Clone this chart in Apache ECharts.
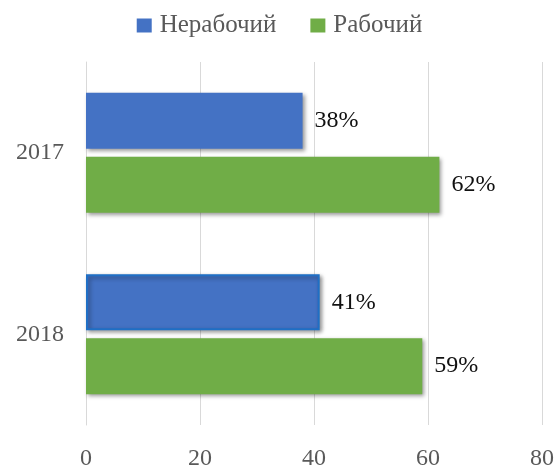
<!DOCTYPE html>
<html><head><meta charset="utf-8">
<script src="https://cdn.jsdelivr.net/npm/echarts@6/dist/echarts.min.js"></script>
<style>html,body{margin:0;padding:0;background:#fff}#c{width:559px;height:471px}</style>
</head><body><div id="c"></div>
<script>
const categories = ['2017', '2018'];
const seriesNames = ['Нерабочий', 'Рабочий'];
const nonWorking = [38, 41];
const working = [62, 59];
const xTicks = [0, 20, 40, 60, 80];

const FONT = '"Liberation Serif", "DejaVu Serif", serif';
const chart = echarts.init(document.getElementById('c'));
const shadow = {shadowColor: 'rgba(0,0,0,0.4)', shadowBlur: 4, shadowOffsetX: 2, shadowOffsetY: 2};
// In the reference, the 2018 "Нерабочий" bar carries a darker blue outline.
const nonWorkingData = nonWorking.map((v, i) => i === 1
  ? {value: v, itemStyle: {borderColor: '#1F6FC5', borderWidth: 2}}
  : v);
chart.setOption({
  animation: false,
  textStyle: {fontFamily: FONT},
  legend: {
    top: 8, left: 'center', itemWidth: 15, itemHeight: 14, itemGap: 34,
    icon: 'rect',
    textStyle: {fontFamily: FONT, fontSize: 25, color: '#595959', padding: [0, 0, 0, 3]},
    data: seriesNames
  },
  grid: {left: 86, right: 17, top: 62, bottom: 43, containLabel: false},
  xAxis: {
    type: 'value', min: xTicks[0], max: xTicks[xTicks.length - 1], interval: 20,
    axisLine: {show: false}, axisTick: {show: false},
    splitLine: {lineStyle: {color: '#d9d9d9', width: 1}},
    axisLabel: {fontFamily: FONT, fontSize: 24, color: '#595959', margin: 22}
  },
  yAxis: {
    type: 'category', data: categories, inverse: true,
    axisLine: {show: true, lineStyle: {color: '#d9d9d9'}}, axisTick: {show: false},
    axisLabel: {fontFamily: FONT, fontSize: 24, color: '#595959', margin: 22}
  },
  series: [
    {
      name: seriesNames[0], type: 'bar', data: nonWorkingData,
      barWidth: 56, barGap: '14%',
      itemStyle: Object.assign({color: '#4472C4'}, shadow),
      label: {show: true, position: 'right', distance: 12, formatter: '{c}%', fontFamily: FONT, fontSize: 24, color: '#111'}
    },
    {
      name: seriesNames[1], type: 'bar', data: working,
      barWidth: 56, barGap: '14%',
      itemStyle: Object.assign({color: '#70AD47'}, shadow),
      label: {show: true, position: 'right', distance: 12, formatter: '{c}%', fontFamily: FONT, fontSize: 24, color: '#111'}
    }
  ]
});
</script></body></html>
